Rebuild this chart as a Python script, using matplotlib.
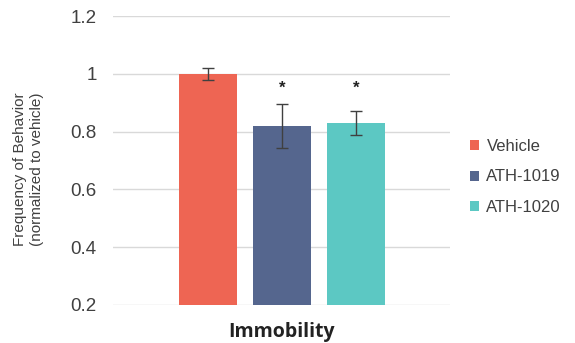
import numpy as np
import matplotlib
matplotlib.use("Agg")
import matplotlib.pyplot as plt

# data
groups = ["Vehicle", "ATH-1019", "ATH-1020"]
means = [1.0, 0.82, 0.83]
errs = [0.022, 0.075, 0.043]
signif = ["", "*", "*"]
colors = ["#EE6553", "#55668E", "#5CC8C3"]
yticks = [0.2, 0.4, 0.6, 0.8, 1.0, 1.2]
ytick_labels = ["0.2", "0.4", "0.6", "0.8", "1", "1.2"]

plt.rcParams['font.family'] = ['Liberation Sans', 'DejaVu Sans']

fig = plt.figure(figsize=(5.75, 3.43), dpi=100)
ax = fig.add_axes([0.197, 0.111, 0.586, 0.842])

width = 0.172
step = 0.22
xs = (np.arange(len(groups)) - 1) * step
for x, m, e, c, g, s in zip(xs, means, errs, colors, groups, signif):
    ax.bar(x, m - 0.2, width, bottom=0.2, color=c, label=g, zorder=2)
    ax.errorbar(x, m, yerr=e, fmt='none', ecolor='#404040', elinewidth=1,
                capsize=4.3, capthick=1, zorder=3)
    if s:
        ax.text(x, 0.95, s, ha='center', va='center', fontsize=12,
                fontweight='bold', color='#222222', zorder=4)

ax.set_xlim(-0.5, 0.5)
ax.set_ylim(0.2, 1.2)
ax.set_yticks(yticks)
ax.set_yticklabels(ytick_labels, fontsize=13.5, color='#404040')
ax.set_xticks([0])
ax.set_xticklabels(["Immobility"], fontsize=14, fontweight='bold',
                   family='Open Sans', color='#222222')
ax.tick_params(axis='y', length=0, pad=12)
ax.tick_params(axis='x', length=0, pad=12)
ax.yaxis.grid(True, color='#D9D9D9', linewidth=1, zorder=0)
ax.set_axisbelow(True)
for sp in ax.spines.values():
    sp.set_visible(False)

ax.set_ylabel("Frequency of Behavior\n(normalized to vehicle)", fontsize=11,
              color='#404040', linespacing=1.25)
ax.yaxis.set_label_coords(-0.205, 0.47)

leg = ax.legend(loc='center left', bbox_to_anchor=(1.06, 0.443), frameon=False,
                fontsize=12, handlelength=0.54, handleheight=0.54,
                handletextpad=0.42, labelspacing=0.95, borderpad=0,
                borderaxespad=0)
for t in leg.get_texts():
    t.set_color('#404040')

fig.savefig("out.png", dpi=100)
